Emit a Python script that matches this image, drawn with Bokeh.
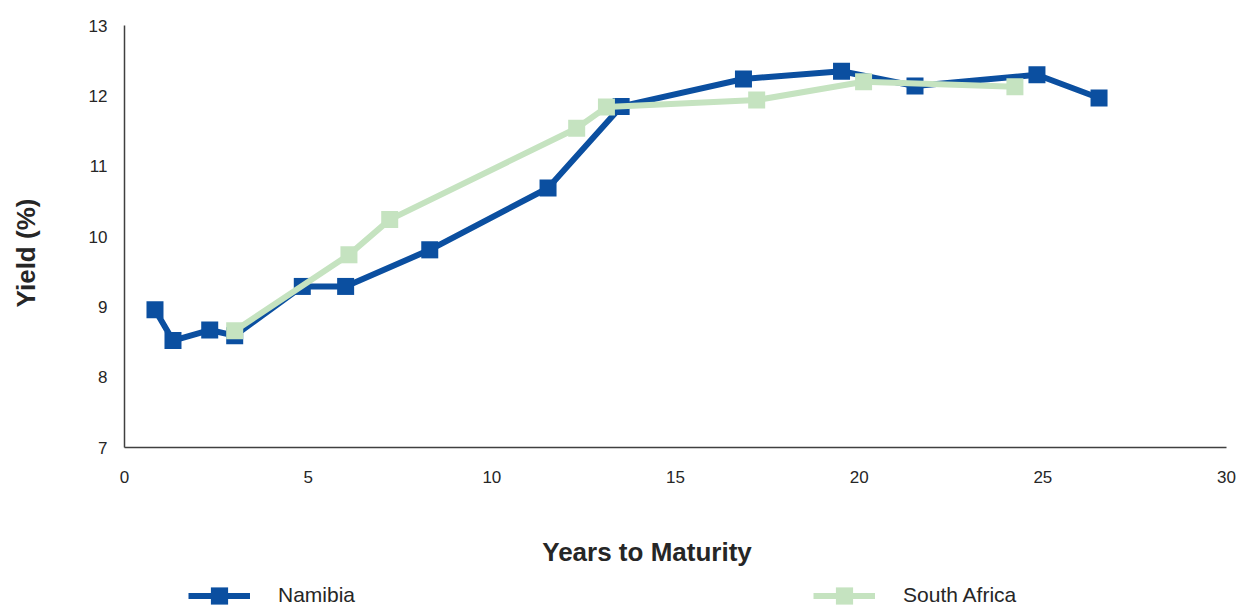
import math
from bokeh.plotting import figure
from bokeh.models import Legend, LegendItem, Label, Range1d, FixedTicker
from bokeh.embed import file_html
from bokeh.resources import INLINE

# Data
namibia_years = [0.83, 1.32, 2.32, 3.00, 4.84, 6.02, 8.31, 11.53, 13.52, 16.85, 19.52, 21.52, 24.84, 26.53]
namibia_yield = [8.96, 8.52, 8.67, 8.59, 9.29, 9.29, 9.81, 10.69, 11.85, 12.24, 12.35, 12.14, 12.30, 11.97]

sa_years = [3.00, 6.11, 7.22, 12.31, 13.12, 17.21, 20.12, 24.24]
sa_yield = [8.66, 9.74, 10.24, 11.54, 11.84, 11.94, 12.20, 12.13]

x_ticks = [0, 5, 10, 15, 20, 25, 30]
y_ticks = [7, 8, 9, 10, 11, 12, 13]

NAM_COLOR = "#0B4FA0"
SA_COLOR = "#C5E3C0"
FONT = "Liberation Sans"
TEXT_COLOR = "#262626"

W, H = 1239, 605
# plot area in pixels: x 0..30 -> 124..1226, y 7..13 -> 447..25
PX_X = (1226 - 124) / 30.0
PX_Y = (447 - 25) / 6.0
x_lo, x_hi = 0 - 124 / PX_X, 30 + (W - 1226) / PX_X
y_lo, y_hi = 7 - (H - 447) / PX_Y, 13 + 25 / PX_Y

p = figure(width=W, height=H, output_backend="svg", toolbar_location=None,
           x_range=Range1d(x_lo, x_hi), y_range=Range1d(y_lo, y_hi),
           min_border=0, min_border_left=0, min_border_right=0,
           min_border_top=0, min_border_bottom=0)

p.outline_line_color = None
p.xgrid.grid_line_color = None
p.ygrid.grid_line_color = None

for ax in (p.xaxis[0], p.yaxis[0]):
    ax.axis_line_color = "#404040"
    ax.axis_line_width = 1.5
    ax.major_tick_line_color = None
    ax.minor_tick_line_color = None
    ax.major_tick_out = 0
    ax.major_tick_in = 0
    ax.minor_tick_out = 0
    ax.minor_tick_in = 0
    ax.major_label_text_font = FONT
    ax.major_label_text_font_size = "17px"
    ax.major_label_text_color = TEXT_COLOR

p.xaxis.ticker = FixedTicker(ticks=x_ticks)
p.yaxis.ticker = FixedTicker(ticks=y_ticks)
p.xaxis.fixed_location = y_ticks[0]
p.yaxis.fixed_location = x_ticks[0]
p.xaxis.bounds = (x_ticks[0], x_ticks[-1])
p.yaxis.bounds = (y_ticks[0], y_ticks[-1])
p.xaxis.major_label_standoff = 23
p.yaxis.major_label_standoff = 17

nl = p.line(namibia_years, namibia_yield, line_color=NAM_COLOR, line_width=6)
ns = p.scatter(namibia_years, namibia_yield, marker="square", size=17,
               fill_color=NAM_COLOR, line_color=None)
sl = p.line(sa_years, sa_yield, line_color=SA_COLOR, line_width=6)
ss = p.scatter(sa_years, sa_yield, marker="square", size=17,
               fill_color=SA_COLOR, line_color=None)

# Axis titles (screen units, measured from bottom-left of the canvas)
xt = Label(x=646.5, y=H - 551, x_units="screen", y_units="screen", text="Years to Maturity",
           text_font=FONT, text_font_size="26px", text_font_style="bold",
           text_color=TEXT_COLOR, text_align="center", text_baseline="middle")
yt = Label(x=25, y=H - 252.5, x_units="screen", y_units="screen", text="Yield (%)",
           text_font=FONT, text_font_size="26px", text_font_style="bold",
           text_color=TEXT_COLOR, text_align="center", text_baseline="middle",
           angle=math.pi / 2)
p.add_layout(xt)
p.add_layout(yt)

legend = Legend(items=[LegendItem(label="Namibia", renderers=[nl, ns]),
                       LegendItem(label="South Africa", renderers=[sl, ss])],
                orientation="horizontal", location=(188, -11.5),
                glyph_width=62, glyph_height=43, label_height=17, label_standoff=28, spacing=458,
                padding=0, margin=0, border_line_color=None, background_fill_alpha=0,
                label_text_font=FONT, label_text_font_size="21px", label_text_color=TEXT_COLOR)
p.add_layout(legend, "center")

open("out.html", "w").write(file_html(p, INLINE))
